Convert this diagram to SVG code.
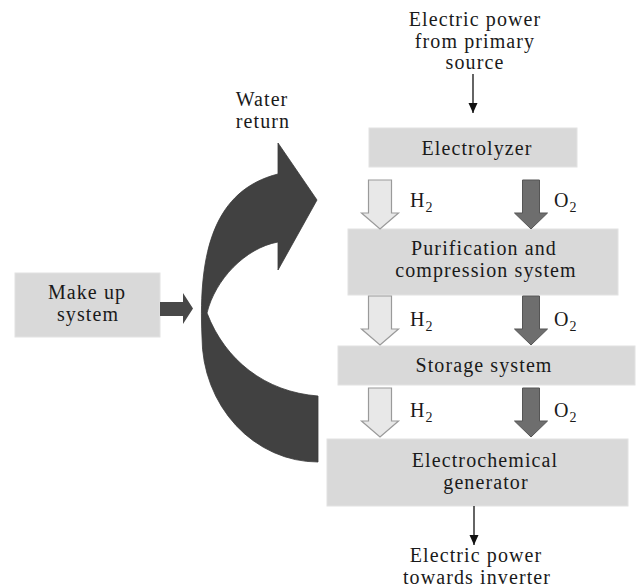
<svg xmlns="http://www.w3.org/2000/svg" width="637" height="588" viewBox="0 0 637 588" font-family="'Liberation Serif', 'Times New Roman', serif">
<style>
text{font-family:'Liberation Serif','Times New Roman',serif;font-size:20px;fill:#1a1a1a;letter-spacing:1.1px}
.c{text-anchor:middle}
.sub{font-size:14px;letter-spacing:0}
.box{fill:#d9d9d9;stroke:#e2e2e2;stroke-width:1}
.h2{fill:#e8e8e8;stroke:#9a9a9a;stroke-width:1.2}
.o2{fill:#6e6e6e;stroke:#555555;stroke-width:1}
.ln{stroke:#111;stroke-width:1.3;fill:none}
</style>
<defs>
<marker id="ah" viewBox="0 0 10 10" refX="10" refY="5" markerWidth="10" markerHeight="10" markerUnits="userSpaceOnUse" orient="auto">
<path d="M0,0.5 L10,5 L0,9.5 Z" fill="#111"/>
</marker>
<path id="harrow" d="M-11.5,0 H11.5 V33 H18.5 L0,49 L-18.5,33 H-11.5 Z"/>
<path id="oarrow" d="M-8.5,0 H8.5 V33 H16.5 L0,49 L-16.5,33 H-8.5 Z"/>
</defs>

<g id="source-label">
<text class="c" x="475" y="26">Electric power</text>
<text class="c" x="475" y="47.5">from primary</text>
<text class="c" x="475" y="69">source</text>
</g>

<g id="water-return-label">
<text class="c" x="262" y="106">Water</text>
<text class="c" x="263" y="127.5">return</text>
</g>

<g id="electrolyzer">
<rect class="box" x="369" y="128" width="208" height="39"/>
<text class="c" x="477" y="155">Electrolyzer</text>
</g>

<g id="purification">
<rect class="box" x="348" y="229" width="270" height="66"/>
<text class="c" x="484" y="255">Purification and</text>
<text class="c" x="486" y="277">compression system</text>
</g>

<g id="storage">
<rect class="box" x="338" y="346" width="297" height="39"/>
<text class="c" x="484" y="372">Storage system</text>
</g>

<g id="generator">
<rect class="box" x="327" y="439" width="301" height="67"/>
<text class="c" x="485" y="467">Electrochemical</text>
<text class="c" x="486" y="489">generator</text>
</g>

<g id="inverter-label">
<text class="c" x="476" y="562">Electric power</text>
<text class="c" x="477" y="584">towards inverter</text>
</g>

<g id="makeup">
<rect class="box" x="15" y="273" width="145" height="64"/>
<text class="c" x="87" y="299">Make up</text>
<text class="c" x="88" y="321">system</text>
</g>

<g id="connectors">
<line class="ln" x1="473" y1="74" x2="473" y2="113" marker-end="url(#ah)"/>
<line class="ln" x1="474" y1="506" x2="474" y2="545" marker-end="url(#ah)"/>

<use href="#harrow" class="h2" x="380" y="180"/>
<use href="#oarrow" class="o2" x="531" y="180"/>
<use href="#harrow" class="h2" x="380" y="296"/>
<use href="#oarrow" class="o2" x="531" y="296"/>
<use href="#harrow" class="h2" x="380" y="388"/>
<use href="#oarrow" class="o2" x="531" y="388"/>

<path d="M160,302 H183 V293 L193,308.5 L183,324 V316 H160 Z" fill="#484848"/>

<path d="M278,174 L278,143 L317,200 L278,270 L278,242 C245,248 215,280 207,313 C225,360 265,392 318,396 L318,462 A116,125 0 0 1 202,337 C198,250 215,190 278,174 Z" fill="#414141" stroke="#3a3a3a" stroke-width="0.8"/>
</g>

<g id="gas-labels">
<text x="410" y="207">H<tspan class="sub" dy="5">2</tspan></text>
<text x="554" y="207">O<tspan class="sub" dy="5">2</tspan></text>
<text x="410" y="326">H<tspan class="sub" dy="5">2</tspan></text>
<text x="554" y="326">O<tspan class="sub" dy="5">2</tspan></text>
<text x="410" y="417">H<tspan class="sub" dy="5">2</tspan></text>
<text x="554" y="417">O<tspan class="sub" dy="5">2</tspan></text>
</g>
</svg>
